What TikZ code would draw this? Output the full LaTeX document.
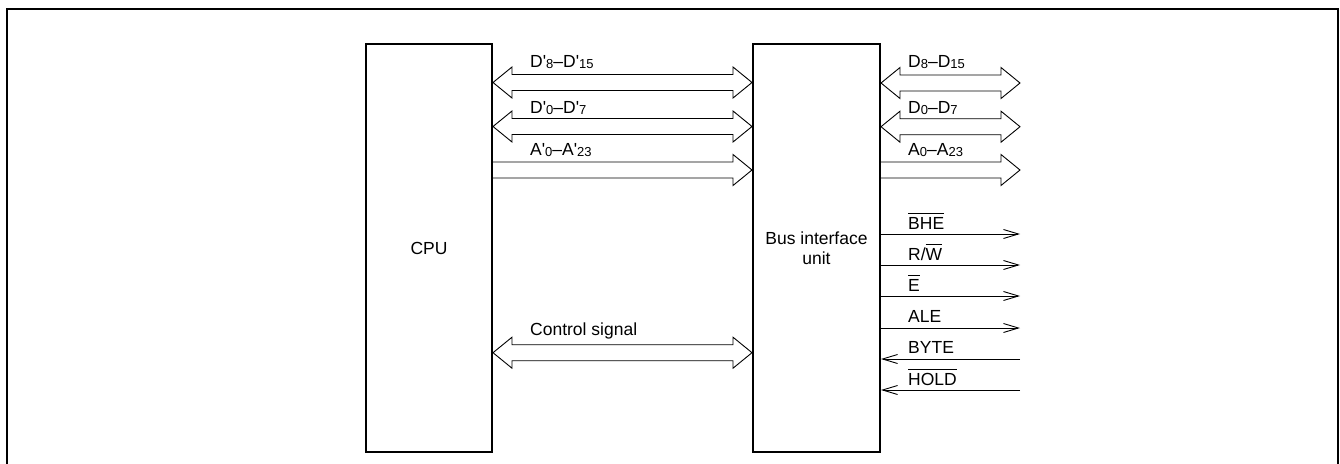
\documentclass[tikz,border=0pt]{standalone}
\usepackage{fontspec}
\setmainfont{Liberation Sans}[Ligatures=TeXOff]
\usetikzlibrary{arrows.meta}
\newcommand\subs[1]{\raisebox{-1.2pt}{\fontsize{13}{13}\selectfont #1}}
\newcommand\ovl[1]{\setbox0\hbox{#1}\rlap{\rule[15pt]{\wd0}{0.9pt}}\box0}
% double-headed hollow bus arrow: left anchor, right anchor, centre y
\newcommand\dbus[3]{%
  \path (#1 |- 0,#3) coordinate (bL) (#2 |- 0,#3) coordinate (bR);
  \draw[bus] (bL) -- ++(19,-15.5) -- ++(0,7.5) -- ([xshift=-19pt,yshift=8pt]bR)
    -- ++(0,-7.5) -- (bR) -- ++(-19,15.5) -- ++(0,-7.5)
    -- ([xshift=19pt,yshift=-8pt]bL) -- ++(0,7.5) -- cycle;}
% single-headed hollow bus arrow
\newcommand\abus[3]{%
  \path (#1 |- 0,#3) coordinate (bL) (#2 |- 0,#3) coordinate (bR);
  \draw[bus] ([yshift=8pt]bL) -- ([xshift=-19pt,yshift=8pt]bR) -- ++(0,-7.5)
    -- (bR) -- ++(-19,15.5) -- ++(0,-7.5) -- ([yshift=-8pt]bL);}
\begin{document}
\begin{tikzpicture}[x=1pt,y=-1pt,
  every node/.style={font=\fontsize{17.5}{20.5}\selectfont},
  box/.style={draw,line width=2pt,minimum width=126pt,minimum height=408pt,inner sep=0pt,align=center},
  bus/.style={line width=0.9pt,line join=miter},
  sig/.style={line width=0.9pt},
  tip/.style={-{Straight Barb[length=15pt,width=9pt]}},
  lab/.style={anchor=base west,inner sep=0pt}]
\useasboundingbox (0,0) rectangle (1340,463);
\draw[line width=2pt] (7,480) -- (7,9) -- (1338,9) -- (1338,480);
\node[box] (cpu) at (429,248) {CPU};
\node[box,minimum width=127pt] (biu) at (816.5,248) {Bus interface\\unit};
\coordinate (rend) at (1020,0);
% buses between CPU and BIU
\dbus{cpu.east}{biu.west}{82.5}
\dbus{cpu.east}{biu.west}{126.5}
\abus{cpu.east}{biu.west}{170}
\dbus{cpu.east}{biu.west}{352.7}
% external buses
\dbus{biu.east}{rend}{83}
\dbus{biu.east}{rend}{126.7}
\abus{biu.east}{rend}{170}
% bus labels
\node[lab] (ld1) at (530,67.5) {D'\subs{8}–D'\subs{15}};
\node[lab] (ld0) at (530,113) {D'\subs{0}–D'\subs{7}};
\node[lab] (la) at (530,155.5) {A'\subs{0}–A'\subs{23}};
\node[lab] (lc) at (530,335) {Control signal};
\node[lab] (rd1) at (908,67.5) {D\subs{8}–D\subs{15}};
\node[lab] (rd0) at (908,113) {D\subs{0}–D\subs{7}};
\node[lab] (ra) at (908,155) {A\subs{0}–A\subs{23}};
% control lines
\draw[sig,tip] (biu.east |- 0,234) -- (rend |- 0,234);
\draw[sig,tip] (biu.east |- 0,265) -- (rend |- 0,265);
\draw[sig,tip] (biu.east |- 0,296) -- (rend |- 0,296);
\draw[sig,tip] (biu.east |- 0,328) -- (rend |- 0,328);
\draw[sig,tip] (rend |- 0,359) -- (biu.east |- 0,359);
\draw[sig,tip] (rend |- 0,390) -- (biu.east |- 0,390);
\node[lab] (s1) at (908,229) {\ovl{BHE}};
\node[lab] (s2) at (908,260) {R/\ovl{W}};
\node[lab] (s3) at (908,291) {\ovl{E}};
\node[lab] (s4) at (908,322.5) {ALE};
\node[lab] (s5) at (908,353.5) {BYTE};
\node[lab] (s6) at (908,385) {\ovl{HOLD}};
\end{tikzpicture}
\end{document}
